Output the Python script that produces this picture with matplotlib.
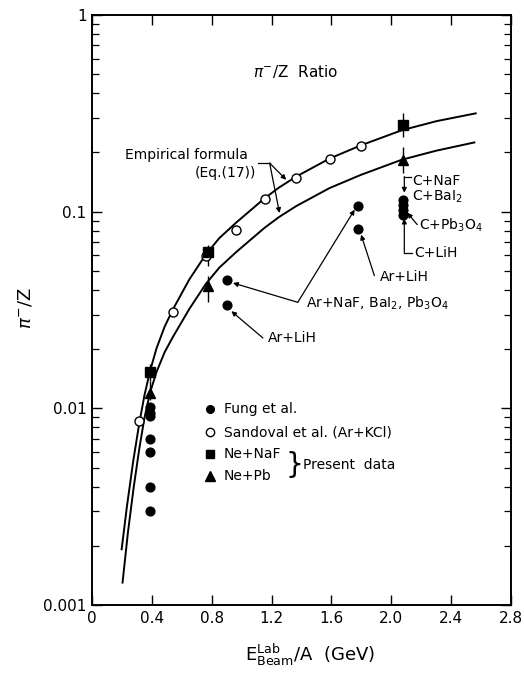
"""
π⁻/Z 比值随束流能量 (E_Beam^Lab / A) 的变化
对数纵轴，两条经验公式曲线 + 各组实验点
"""

import matplotlib
matplotlib.use('Agg')
import matplotlib.pyplot as plt

plt.rcParams['font.family'] = ['DejaVu Sans']
plt.rcParams['mathtext.fontset'] = 'dejavusans'

# 经验公式 (Eq.(17)) 两条曲线上读取的点
upper_x = [0.198, 0.233, 0.275, 0.315, 0.35, 0.387, 0.431, 0.485, 0.542, 0.65, 0.76,
           0.85, 0.964, 1.153, 1.25, 1.364, 1.587, 1.796, 2.07, 2.3, 2.564]
upper_y = [0.00192, 0.00316, 0.00537, 0.00832, 0.01161, 0.01542, 0.02018, 0.0260,
           0.0320, 0.0452, 0.0605, 0.0733, 0.0881, 0.1169, 0.1327, 0.1507, 0.1862,
           0.2173, 0.2594, 0.2884, 0.3162]
lower_x = [0.204, 0.24, 0.278, 0.315, 0.35, 0.387, 0.431, 0.485, 0.542, 0.65, 0.76,
           0.85, 0.964, 1.153, 1.25, 1.364, 1.587, 1.796, 2.07, 2.3, 2.555]
lower_y = [0.0013, 0.00234, 0.00394, 0.00617, 0.00891, 0.01197, 0.01531, 0.01928,
           0.02317, 0.03199, 0.04285, 0.05188, 0.06237, 0.08279, 0.09397, 0.1067,
           0.1318, 0.1538, 0.1837, 0.2042, 0.2249]

# Fung et al. (实心圆)
fung_x = [0.39, 0.39, 0.39, 0.39, 0.39, 0.39, 0.39]
fung_y = [0.0102, 0.0095, 0.0091, 0.0070, 0.0060, 0.0040, 0.0030]
ar_x = [0.90, 0.90, 1.777, 1.777]
ar_y = [0.0447, 0.0337, 0.107, 0.0817]
c_x = [2.075, 2.075, 2.075, 2.075]
c_y = [0.115, 0.1086, 0.102, 0.0966]

# Sandoval et al. (Ar+KCl) 空心圆
sand_x = [0.315, 0.542, 0.76, 0.964, 1.153, 1.36, 1.589, 1.796]
sand_y = [0.0086, 0.031, 0.0593, 0.081, 0.116, 0.149, 0.185, 0.217]

# 本工作数据，带误差棒 (下端 / 上端)
nenaf_x = [0.39, 0.775, 2.075]
nenaf_y = [0.0153, 0.0623, 0.2765]
nenaf_lo = [0.0138, 0.0527, 0.241]
nenaf_hi = [0.0168, 0.068, 0.317]
nepb_x = [0.39, 0.775, 2.075]
nepb_y = [0.0120, 0.0418, 0.1836]
nepb_lo = [0.0110, 0.0349, 0.157]
nepb_hi = [0.0138, 0.047, 0.214]

x_ticks = [0, 0.4, 0.8, 1.2, 1.6, 2.0, 2.4, 2.8]
x_labels = ['0', '0.4', '0.8', '1.2', '1.6', '2.0', '2.4', '2.8']
y_ticks = [0.001, 0.01, 0.1, 1]
y_labels = ['0.001', '0.01', '0.1', '1']


def arrow(ax, start, end):
    ax.annotate('', xy=end, xytext=start,
                arrowprops=dict(arrowstyle='-|>', color='k', lw=0.9,
                                mutation_scale=7, shrinkA=0, shrinkB=0))


fig = plt.figure(figsize=(5.24, 6.73), dpi=100)
ax = fig.add_axes([0.1756, 0.101, 0.7996, 0.8767])
ax.set_yscale('log')
ax.set_xlim(0, 2.8)
ax.set_ylim(0.001, 1)

# 曲线
ax.plot(upper_x, upper_y, color='k', lw=1.4, zorder=2)
ax.plot(lower_x, lower_y, color='k', lw=1.4, zorder=2)

# 误差棒
for xs, ys, lo, hi in [(nenaf_x, nenaf_y, nenaf_lo, nenaf_hi),
                       (nepb_x, nepb_y, nepb_lo, nepb_hi)]:
    err = [[y - l for y, l in zip(ys, lo)], [h - y for y, h in zip(ys, hi)]]
    ax.errorbar(xs, ys, yerr=err, fmt='none', ecolor='k', elinewidth=1.0,
                capsize=0, zorder=3)

dot = dict(marker='o', ls='none', color='k', ms=6.3, zorder=4)
ax.plot(fung_x, fung_y, **dot)
ax.plot(ar_x, ar_y, **dot)
ax.plot(c_x, c_y, **dot)
ax.plot(sand_x, sand_y, marker='o', ls='none', mfc='white', mec='k', mew=1.0,
        ms=6.5, zorder=4)
ax.plot(nenaf_x, nenaf_y, marker='s', ls='none', color='k', ms=6.5, zorder=5)
ax.plot(nepb_x, nepb_y, marker='^', ls='none', color='k', ms=7, zorder=5)

# 坐标轴样式
ax.set_xticks(x_ticks)
ax.set_xticklabels(x_labels, fontsize=11)
ax.set_yticks(y_ticks)
ax.set_yticklabels(y_labels, fontsize=11)
ax.tick_params(which='major', direction='in', length=7, width=1.0,
               top=True, right=True, pad=4)
ax.tick_params(which='minor', direction='in', length=5, width=0.9,
               right=True, left=True)
ax.tick_params(axis='x', which='minor', bottom=False, top=False)
for sp in ax.spines.values():
    sp.set_linewidth(1.4)

# 标题与轴标签
ax.text(1.36, 0.514, r'$\pi^{-}$/Z  Ratio', fontsize=11, ha='center', va='center')
fig.text(25 / 524, 1 - 308 / 673, r'$\pi^{-}$/Z', rotation=90, fontsize=13,
         ha='center', va='center')
fig.text(310 / 524, 1 - 655 / 673, r'E$^{\rm Lab}_{\rm Beam}$/A  (GeV)', fontsize=13,
         ha='center', va='center')

# 经验公式标注
ax.text(0.22, 0.1945, 'Empirical formula', fontsize=10, ha='left', va='center')
ax.text(1.10, 0.158, '(Eq.(17))', fontsize=10, ha='right', va='center')
ax.plot([1.11, 1.187], [0.1766, 0.1766], color='k', lw=0.9)
arrow(ax, (1.187, 0.1766), (1.298, 0.1453))
arrow(ax, (1.187, 0.1766), (1.253, 0.0985))

# C 靶标注
fs = 10
ax.text(2.14, 0.1435, 'C+NaF', fontsize=fs, ha='left', va='center')
ax.text(2.14, 0.119, r'C+BaI$_2$', fontsize=fs, ha='left', va='center')
ax.text(2.187, 0.0849, r'C+Pb$_3$O$_4$', fontsize=fs, ha='left', va='center')
ax.text(2.153, 0.062, 'C+LiH', fontsize=fs, ha='left', va='center')
ax.plot([2.133, 2.087], [0.1507, 0.1507], color='k', lw=0.9)
arrow(ax, (2.087, 0.1507), (2.087, 0.1249))
arrow(ax, (2.173, 0.086), (2.107, 0.0988))
ax.plot([2.14, 2.087], [0.062, 0.062], color='k', lw=0.9)
arrow(ax, (2.087, 0.062), (2.087, 0.0922))

# Ar 靶标注
ax.text(1.927, 0.0468, 'Ar+LiH', fontsize=fs, ha='left', va='center')
arrow(ax, (1.887, 0.0473), (1.798, 0.0764))
ax.text(1.431, 0.0344, r'Ar+NaF, BaI$_2$, Pb$_3$O$_4$', fontsize=fs,
        ha='left', va='center')
arrow(ax, (1.375, 0.0346), (0.942, 0.0434))
arrow(ax, (1.375, 0.0346), (1.755, 0.1024))
ax.text(1.173, 0.0227, 'Ar+LiH', fontsize=fs, ha='left', va='center')
arrow(ax, (1.142, 0.0228), (0.931, 0.0312))

# 图例（手动排布）
lx, tx = 0.791, 0.88
ax.plot([lx], [0.00989], marker='o', color='k', ms=5.5)
ax.plot([lx], [0.00755], marker='o', mfc='white', mec='k', mew=1.0, ms=6)
ax.plot([lx], [0.00584], marker='s', color='k', ms=6)
ax.plot([lx], [0.00452], marker='^', color='k', ms=6.5)
ax.text(tx, 0.00989, 'Fung et al.', fontsize=fs, ha='left', va='center')
ax.text(tx, 0.00755, 'Sandoval et al. (Ar+KCl)', fontsize=fs, ha='left', va='center')
ax.text(tx, 0.00584, 'Ne+NaF', fontsize=fs, ha='left', va='center')
ax.text(tx, 0.00452, 'Ne+Pb', fontsize=fs, ha='left', va='center')
ax.text(1.353, 0.00514, '}', fontsize=20, ha='center', va='center')
ax.text(1.413, 0.00514, 'Present  data', fontsize=fs, ha='left', va='center')

fig.savefig('out.png', dpi=100)
